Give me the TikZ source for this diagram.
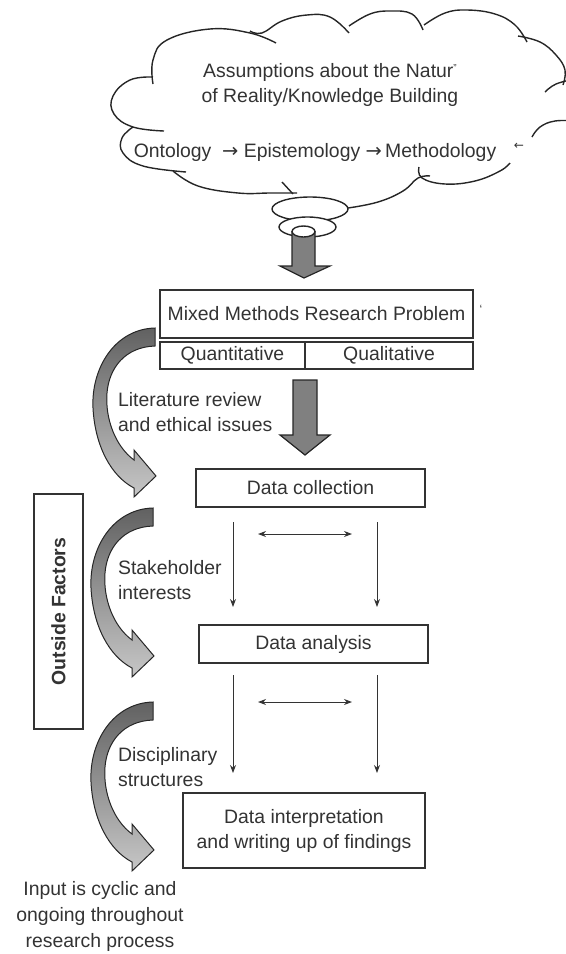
\documentclass[tikz,border=0pt]{standalone}
\usepackage{fontspec}
\setmainfont{Liberation Sans}
\newfontfamily\arrowfont{DejaVu Sans}
\usetikzlibrary{arrows.meta}
\begin{document}
\begin{tikzpicture}[x=0.5pt,y=-0.5pt,
  every node/.style={font=\fontsize{9.7}{12.5}\selectfont, text=black!80},
  boxnode/.style={draw=black!80, line width=0.7pt, inner sep=0pt, fill=white},
  cloudline/.style={draw=black!85, line width=0.7pt},
  thin arrow/.style={draw=black!80, line width=0.5pt, -{Stealth[length=4pt,width=3pt]}},
  dbl arrow/.style={draw=black!80, line width=0.5pt, {Stealth[length=4pt,width=3pt]}-{Stealth[length=4pt,width=3pt]}},
  blockarrow/.style={fill=black!50, draw=black!85, line width=0.6pt},
  curvarr/.pic={
    \path[draw=black!85, line width=0.5pt, top color=black!62, middle color=black!48, bottom color=black!22]
      (0,0) .. controls (-40,1) and (-64,40) .. (-62,80)
      .. controls (-60,118) and (-44,148) .. (-21,160)
      -- (-21,169) -- (1,148) -- (-21,122) -- (-21,132)
      .. controls (-40,118) and (-50,90) .. (-48,65)
      .. controls (-46,40) and (-30,19) .. (0,18) -- cycle;
  }
]
\useasboundingbox (0,0) rectangle (566,954);

% ---------- cloud ----------
\begin{scope}
\clip (0,0) rectangle (566,954);
\path[cloudline] plot[smooth, tension=0.7] coordinates {(153,77) (130,80) (113,96) (114,114) (133,127) (164,131)};
\path[cloudline] plot[smooth, tension=0.7] coordinates {(153,84) (153,60) (167,40) (210,29) (250,33) (276,43)};
\path[cloudline] plot[smooth, tension=0.7] coordinates {(133,127) (122,138) (123,153) (143,166) (186,172)};
\path[cloudline] plot[smooth, tension=0.7] coordinates {(173,171) (198,186) (238,193) (270,193) (297,193)};
\path[cloudline] (282,182) -- (293,194);
\path[cloudline] plot[smooth, tension=0.7] coordinates {(250,31) (262,33) (282,21) (307,15) (330,17) (349,33)};
\path[cloudline] plot[smooth, tension=0.7] coordinates {(349,26) (370,14) (390,11) (412,14) (423,30)};
\path[cloudline] plot[smooth, tension=0.7] coordinates {(424,25) (445,13) (467,10) (495,14) (515,25) (527,42)};
\path[cloudline] plot[smooth, tension=0.7] coordinates {(518,36) (540,42) (556,55) (565,70) (563,85)};
\path[cloudline] plot[smooth, tension=0.7] coordinates {(545,92) (556,84) (575,79)};
\path[cloudline] plot[smooth, tension=0.7] coordinates {(532,137) (540,127) (555,121) (575,121)};
\path[cloudline] plot[smooth, tension=0.7] coordinates {(348,208) (378,202) (403,191) (418,178) (430,176)};
\path[cloudline] plot[smooth, tension=0.7] coordinates {(419,167) (422,178) (445,184) (475,181) (500,171) (510,163)};
\end{scope}
\node[font=\fontsize{6}{6}\selectfont\arrowfont] (lmark) at (519,146) {←};

% spiral
\path[cloudline, fill=white] (310,209) ellipse [x radius=38, y radius=12];
\path[cloudline, fill=white] (307.5,227) ellipse [x radius=28.5, y radius=10];
\path[blockarrow] (292,232) -- (315,232) -- (315,266) -- (330,266) -- (304,278) -- (280,266) -- (292,266) -- cycle;
\path[cloudline, fill=white] (303.5,231.5) ellipse [x radius=11.5, y radius=5.5];

% cloud text
\node[align=center] (assume) at (330,84.5) {Assumptions about the Natur\raisebox{3pt}{\fontsize{5}{5}\selectfont ''}\\of Reality/Knowledge Building};
\node (onto) at (315,152) {Ontology\ \ {\arrowfont→} Epistemology {\arrowfont→}\,Methodology};

% ---------- boxes ----------
\node[boxnode, minimum width=156.5pt, minimum height=24pt] (mixed) at (316.5,314) {Mixed Methods Research Problem};
\node[font=\fontsize{6}{6}\selectfont] (mark) at (481,309) {‘};
\node[boxnode, minimum width=72.5pt, minimum height=13.5pt] (quant) at (232.5,355.5) {Quantitative};
\node[boxnode, minimum width=84pt, minimum height=13.5pt] (qual) at (389,355.5) {Qualitative};

\path[blockarrow] (293,380) -- (317,380) -- (317,435) -- (330,435) -- (305,455) -- (280,435) -- (293,435) -- cycle;

\node[boxnode, minimum width=114.5pt, minimum height=19pt] (coll) at (310.5,488) {Data collection};
\node[boxnode, minimum width=114.5pt, minimum height=19pt] (anal) at (313.5,644) {Data analysis};
\node[boxnode, minimum width=121pt, minimum height=37.5pt, align=center] (interp) at (304,830.5) {Data interpretation\\and writing up of findings};

\node[boxnode, rotate=90, minimum width=117.5pt, minimum height=24.5pt, font=\fontsize{9.7}{12}\selectfont\bfseries] (outside) at (58.5,611.5) {Outside Factors};

% ---------- thin arrows ----------
\coordinate (a1s) at (233,522); \coordinate (a1e) at (233,607);
\coordinate (b1s) at (377,522); \coordinate (b1e) at (377,607);
\coordinate (d1s) at (258,534); \coordinate (d1e) at (352,534);
\coordinate (a2s) at (233,675); \coordinate (a2e) at (233,773);
\coordinate (b2s) at (377,675); \coordinate (b2e) at (377,773);
\coordinate (d2s) at (258,702); \coordinate (d2e) at (352,702);
\draw[thin arrow] (a1s) -- (a1e);
\draw[thin arrow] (b1s) -- (b1e);
\draw[dbl arrow] (d1s) -- (d1e);
\draw[thin arrow] (a2s) -- (a2e);
\draw[thin arrow] (b2s) -- (b2e);
\draw[dbl arrow] (d2s) -- (d2e);

% ---------- curved arrows ----------
\pic at (155,328) {curvarr};
\pic at (153,508) {curvarr};
\pic at (153,702) {curvarr};

% ---------- labels ----------
\node[anchor=west, align=left] (lit) at (111,412.5) {Literature review\\and ethical issues};
\node[anchor=west, align=left] (stake) at (111,580.5) {Stakeholder\\interests};
\node[anchor=west, align=left] (disc) at (111,767.5) {Disciplinary\\structures};
\node[align=center, font=\fontsize{9.7}{13}\selectfont] (input) at (100,916) {Input is cyclic and\\ongoing throughout\\research process};
\end{tikzpicture}
\end{document}
